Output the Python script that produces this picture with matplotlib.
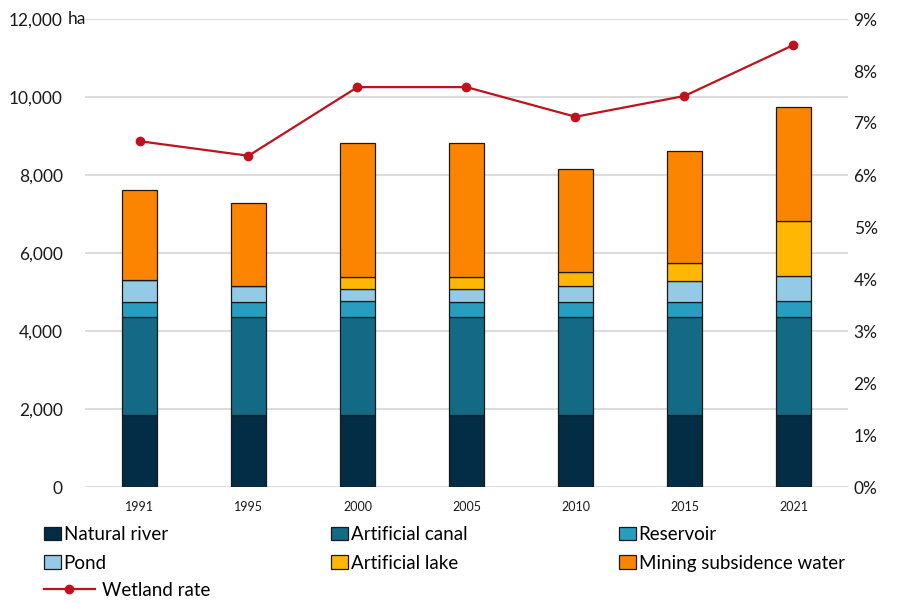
import matplotlib
matplotlib.use("Agg")
import matplotlib.pyplot as plt
from matplotlib.patches import Patch
from matplotlib.lines import Line2D
import numpy as np

plt.rcParams['font.family'] = ['Lato', 'DejaVu Sans']

years = ["1991", "1995", "2000", "2005", "2010", "2015", "2021"]
natural_river = [1840, 1845, 1845, 1840, 1840, 1840, 1840]
artificial_canal = [2530, 2505, 2520, 2520, 2520, 2510, 2520]
reservoir = [380, 390, 395, 385, 385, 385, 400]
pond = [560, 410, 310, 325, 410, 540, 660]
artificial_lake = [0, 0, 315, 325, 360, 470, 1395]
mining_subsidence = [2310, 2140, 3430, 3420, 2630, 2870, 2930]
wetland_rate = [6.65, 6.37, 7.69, 7.69, 7.12, 7.52, 8.50]

series = [
    ("Natural river", natural_river, "#032D45"),
    ("Artificial canal", artificial_canal, "#146984"),
    ("Reservoir", reservoir, "#279EBF"),
    ("Pond", pond, "#93CAE6"),
    ("Artificial lake", artificial_lake, "#FFB703"),
    ("Mining subsidence water", mining_subsidence, "#FB8501"),
]
line_color = "#C0121C"

fig = plt.figure(figsize=(9.04, 6.03), dpi=100)
ax = fig.add_axes([85/904, 1-487/603, (848-85)/904, (487-19)/603])

x = np.arange(len(years))
bottom = np.zeros(len(years))
handles = {}
for name, vals, col in series:
    v = np.array(vals, dtype=float)
    ax.bar(x, v, width=0.32, bottom=bottom, color=col, edgecolor="#1a1a1a",
           linewidth=0.9, zorder=3)
    handles[name] = Patch(facecolor=col, edgecolor="#1a1a1a", linewidth=0.9)
    bottom += v

ax.set_xlim(-0.5, len(years) - 0.5)
ax.set_ylim(0, 12000)
ax.set_yticks(np.arange(0, 12001, 2000))
ax.set_yticklabels([f"{v:,}" for v in range(0, 12001, 2000)])
ax.set_xticks(x)
ax.set_xticklabels(years, fontsize=9)
ax.tick_params(axis='y', length=0, pad=16, labelsize=12.5, colors="#1a1a1a")
ax.tick_params(axis='x', length=0, pad=10, colors="#1a1a1a")
ax.grid(axis='y', color="#D9D9D9", linewidth=1.3, zorder=0)
for s in ax.spines.values():
    s.set_visible(False)
ax.text(-0.022, 12000, "ha",
        transform=matplotlib.transforms.blended_transform_factory(ax.transAxes, ax.transData),
        ha='left', va='center', fontsize=12.5, color="#1a1a1a")

ax2 = ax.twinx()
ax2.plot(x, np.array(wetland_rate) / 100, color=line_color, linewidth=1.6,
         marker='o', markersize=6, zorder=5)
ax2.set_ylim(0, 0.09)
ax2.set_yticks(np.arange(0, 0.0901, 0.01))
ax2.set_yticklabels([f"{i}%" for i in range(10)])
ax2.tick_params(axis='y', length=0, pad=4, labelsize=12.5, colors="#1a1a1a")
for s in ax2.spines.values():
    s.set_visible(False)

leg_kw = dict(frameon=False, loc='upper left', fontsize=13.5, handlelength=0.9,
              handleheight=0.75, handletextpad=0.15, labelspacing=0.62,
              borderpad=0, borderaxespad=0)
top_y = 1 - 526/603
l1 = fig.legend([handles["Natural river"], handles["Pond"]], ["Natural river", "Pond"],
                bbox_to_anchor=(44/904, top_y), **leg_kw)
l2 = fig.legend([handles["Artificial canal"], handles["Artificial lake"]],
                ["Artificial canal", "Artificial lake"],
                bbox_to_anchor=(331/904, top_y), **leg_kw)
l3 = fig.legend([handles["Reservoir"], handles["Mining subsidence water"]],
                ["Reservoir", "Mining subsidence water"],
                bbox_to_anchor=(619/904, top_y), **leg_kw)
wl = Line2D([], [], color=line_color, linewidth=1.6, marker='o', markersize=6)
kw4 = dict(leg_kw)
kw4.update(handlelength=2.7, handletextpad=0.4)
l4 = fig.legend([wl], ["Wetland rate"], bbox_to_anchor=(44/904, 1 - 582/603), **kw4)

fig.savefig("out.png", dpi=100)
